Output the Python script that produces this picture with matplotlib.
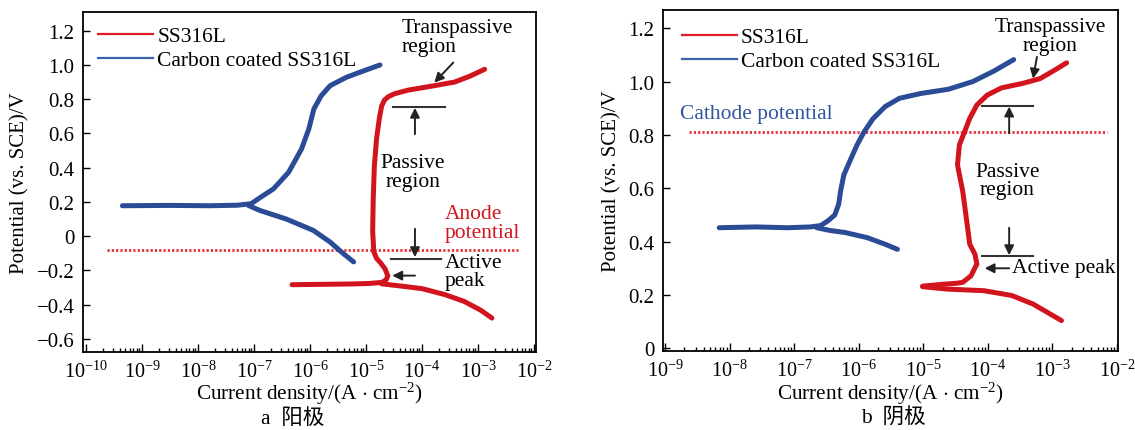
import numpy as np
import matplotlib as mpl
mpl.use('Agg')
import matplotlib.pyplot as plt
from matplotlib.lines import Line2D
from matplotlib.ticker import FixedLocator, FuncFormatter, NullFormatter

# style
mpl.rcParams['font.family'] = ['Liberation Serif', 'Noto Sans CJK SC']
mpl.rcParams['font.size'] = 15.5
mpl.rcParams['mathtext.fontset'] = 'custom'
mpl.rcParams['mathtext.rm'] = 'Liberation Serif'
mpl.rcParams['mathtext.it'] = 'Liberation Serif:italic'
mpl.rcParams['axes.unicode_minus'] = True

RED = '#d2141e'
BLUE = '#2a4b96'
DARK = '#222222'

# ---- (a) anode: log10 current density (A/cm2) and potential (V vs SCE) ----
a_ss_anodic_logi = [-6.32, -5.8, -5.3, -4.95, -4.72, -4.64, -4.61, -4.66, -4.74, -4.81,
                    -4.86, -4.88, -4.87, -4.85, -4.81, -4.76, -4.72, -4.67, -4.60, -4.49,
                    -4.25, -3.85, -3.42, -3.14, -2.88]
a_ss_anodic_E = [-0.283, -0.281, -0.279, -0.276, -0.270, -0.255, -0.231, -0.190, -0.155, -0.130,
                 -0.090, 0.030, 0.220, 0.410, 0.570, 0.690, 0.760, 0.795, 0.815, 0.832,
                 0.853, 0.875, 0.900, 0.935, 0.975]
a_ss_cathodic_logi = [-4.72, -4.4, -4.0, -3.6, -3.25, -2.95, -2.75]
a_ss_cathodic_E = [-0.278, -0.290, -0.306, -0.340, -0.380, -0.432, -0.478]

a_cc_anodic_logi = [-9.35, -8.5, -7.8, -7.3, -7.05, -6.92, -6.65, -6.38, -6.15, -6.02,
                    -5.93, -5.80, -5.64, -5.35, -5.03, -4.75]
a_cc_anodic_E = [0.178, 0.180, 0.178, 0.181, 0.190, 0.219, 0.277, 0.374, 0.510, 0.627,
                 0.743, 0.820, 0.879, 0.928, 0.967, 1.000]
a_cc_cathodic_logi = [-7.1, -6.89, -6.42, -5.94, -5.64, -5.41, -5.22]
a_cc_cathodic_E = [0.180, 0.150, 0.100, 0.034, -0.034, -0.100, -0.150]

a_anode_potential = -0.083

# ---- (b) cathode ----
b_ss_anodic_logi = [-5.01, -4.70, -4.48, -4.39, -4.26, -4.17, -4.20, -4.28, -4.34, -4.39,
                    -4.44, -4.47, -4.44, -4.36, -4.28, -4.17, -4.01, -3.79, -3.46, -3.19,
                    -2.97, -2.78]
b_ss_anodic_E = [0.233, 0.240, 0.244, 0.247, 0.272, 0.316, 0.353, 0.390, 0.500, 0.590,
                 0.650, 0.688, 0.763, 0.812, 0.862, 0.912, 0.949, 0.976, 0.993, 1.011,
                 1.042, 1.070]
b_ss_cathodic_logi = [-5.01, -4.63, -4.06, -3.63, -3.30, -3.08, -2.86]
b_ss_cathodic_E = [0.231, 0.222, 0.216, 0.198, 0.166, 0.135, 0.104]

b_cc_anodic_logi = [-8.16, -7.6, -7.1, -6.75, -6.59, -6.48, -6.37, -6.31, -6.28, -6.23,
                    -6.14, -6.03, -5.92, -5.78, -5.59, -5.37, -5.04, -4.61, -4.23, -3.90,
                    -3.60]
b_cc_anodic_E = [0.452, 0.455, 0.452, 0.455, 0.460, 0.477, 0.500, 0.540, 0.590, 0.650,
                 0.700, 0.760, 0.810, 0.860, 0.906, 0.937, 0.955, 0.971, 1.000, 1.040,
                 1.082]
b_cc_cathodic_logi = [-6.65, -6.45, -6.21, -5.87, -5.59, -5.40]
b_cc_cathodic_E = [0.452, 0.442, 0.434, 0.415, 0.390, 0.371]

b_cathode_potential = 0.809

legend_labels = ['SS316L', 'Carbon coated SS316L']


def fmt_potential(v, pos):
    if abs(v) < 1e-9:
        return '0'
    return ('%.1f' % v).replace('-', '\u2212')


def fmt_decade(v, pos):
    return r'$10^{%d}$' % int(round(np.log10(v)))


def style_axes(ax, dec_lo, dec_hi, xlim, ylim, yticks):
    ax.set_xscale('log')
    ax.set_xlim(*xlim)
    ax.set_ylim(*ylim)
    decades = np.arange(dec_lo, dec_hi + 1)
    minors = [m * 10.0 ** d for d in decades[:-1] for m in range(2, 10)]
    ax.xaxis.set_major_locator(FixedLocator(10.0 ** decades))
    ax.xaxis.set_minor_locator(FixedLocator(minors))
    ax.xaxis.set_major_formatter(FuncFormatter(fmt_decade))
    ax.xaxis.set_minor_formatter(NullFormatter())
    ax.yaxis.set_major_locator(FixedLocator(yticks))
    ax.yaxis.set_major_formatter(FuncFormatter(fmt_potential))
    ax.tick_params(axis='both', which='both', direction='in', top=False, right=False,
                   width=1.0, colors='black')
    ax.tick_params(axis='x', which='major', length=6, pad=6, labelsize=14.5)
    ax.tick_params(axis='x', which='minor', length=3)
    ax.tick_params(axis='y', which='major', length=5, pad=6, labelsize=15)
    for s in ax.spines.values():
        s.set_linewidth(1.3)
    ax.set_xlabel(r'Current density/(A $\cdot$ cm$^{-2}$)', fontsize=15.3)
    ax.set_ylabel('Potential (vs. SCE)/V', fontsize=15)


def curve(ax, logi, E, color):
    ax.plot(10.0 ** np.asarray(logi), E, color=color, lw=3.6,
            solid_capstyle='round', solid_joinstyle='round', zorder=3)


def arrow(ax, tail, head):
    ax.annotate('', xy=(10 ** head[0], head[1]), xytext=(10 ** tail[0], tail[1]),
                arrowprops=dict(arrowstyle='-|>', color=DARK, lw=1.4,
                                mutation_scale=14, shrinkA=0, shrinkB=0), zorder=4)


def bar(ax, x0, x1, y):
    ax.plot([10 ** x0, 10 ** x1], [y, y], color='#333333', lw=1.5, zorder=4)


def legend(ax, anchor):
    handles = [Line2D([], [], color='#e01e28', lw=1.6),
               Line2D([], [], color='#3a62b0', lw=1.6)]
    ax.legend(handles, legend_labels, loc='upper left', bbox_to_anchor=anchor,
              frameon=False, fontsize=15.5, handlelength=2.55, handletextpad=0.18,
              labelspacing=0.17, borderpad=0, borderaxespad=0)


fig = plt.figure(figsize=(11.35, 4.31), dpi=100)

# ---------------- (a) ----------------
ax1 = fig.add_axes([0.0731, 0.181, 0.3991, 0.7895])
style_axes(ax1, -10, -2, (10 ** -10.054, 10 ** -1.964), (-0.676, 1.311),
           np.round(np.arange(-0.6, 1.21, 0.2), 1))
curve(ax1, a_cc_anodic_logi, a_cc_anodic_E, BLUE)
curve(ax1, a_cc_cathodic_logi, a_cc_cathodic_E, BLUE)
curve(ax1, a_ss_anodic_logi, a_ss_anodic_E, RED)
curve(ax1, a_ss_cathodic_logi, a_ss_cathodic_E, RED)
ax1.plot([10 ** -9.63, 10 ** -2.29], [a_anode_potential] * 2, color='#e8303a', lw=2.0,
         linestyle=(0, (0.8, 0.75)), zorder=2)

ax1.text(10 ** -4.36, 1.163, 'Transpassive\nregion', ha='left', va='center', linespacing=0.95)
arrow(ax1, (-3.44, 1.014), (-3.78, 0.897))
bar(ax1, -4.52, -3.59, 0.757)
arrow(ax1, (-4.125, 0.596), (-4.125, 0.75))
ax1.text(10 ** -4.16, 0.375, 'Passive\nregion', ha='center', va='center', linespacing=0.95)
ax1.text(10 ** -3.6, 0.077, 'Anode\npotential', ha='left', va='center', color=RED,
         linespacing=0.95)
arrow(ax1, (-4.125, 0.043), (-4.125, -0.122))
bar(ax1, -4.55, -3.66, -0.132)
ax1.text(10 ** -3.6, -0.207, 'Active\npeak', ha='left', va='center', linespacing=0.95)
arrow(ax1, (-4.125, -0.23), (-4.53, -0.23))
legend(ax1, (0.034, 0.957))
ax1.yaxis.set_label_coords(-0.117, 0.5)
ax1.xaxis.set_label_coords(0.5, -0.083)

# ---------------- (b) ----------------
ax2 = fig.add_axes([0.5841, 0.1833, 0.4009, 0.7912])
style_axes(ax2, -9, -2, (10 ** -9.031, 10 ** -1.985), (-0.01, 1.268),
           np.round(np.arange(0, 1.21, 0.2), 1))
curve(ax2, b_cc_anodic_logi, b_cc_anodic_E, BLUE)
curve(ax2, b_cc_cathodic_logi, b_cc_cathodic_E, BLUE)
curve(ax2, b_ss_anodic_logi, b_ss_anodic_E, RED)
curve(ax2, b_ss_cathodic_logi, b_ss_cathodic_E, RED)
ax2.plot([10 ** -8.62, 10 ** -2.15], [b_cathode_potential] * 2, color='#e8303a', lw=2.0,
         linestyle=(0, (0.8, 0.75)), zorder=2)

ax2.text(10 ** -8.76, 0.881, 'Cathode potential', ha='left', va='center', color='#2e55a0')
ax2.text(10 ** -3.03, 1.17, 'Transpassive\nregion', ha='center', va='center', linespacing=0.95)
arrow(ax2, (-3.24, 1.092), (-3.30, 1.011))
bar(ax2, -4.09, -3.30, 0.908)
arrow(ax2, (-3.67, 0.806), (-3.67, 0.906))
ax2.text(10 ** -3.70, 0.63, 'Passive\nregion', ha='center', va='center', linespacing=0.95)
arrow(ax2, (-3.67, 0.452), (-3.67, 0.349))
bar(ax2, -4.09, -3.30, 0.347)
ax2.text(10 ** -3.62, 0.303, 'Active peak', ha='left', va='center')
arrow(ax2, (-3.67, 0.30), (-4.05, 0.30))
legend(ax2, (0.042, 0.949))
ax2.yaxis.set_label_coords(-0.092, 0.5)
ax2.xaxis.set_label_coords(0.5, -0.083)

# panel captions
fig.text(293 / 1135, 1 - 419 / 431, 'a  阳极', ha='center', va='center', fontsize=15.5)
fig.text(893 / 1135, 1 - 419 / 431, 'b  阴极', ha='center', va='center', fontsize=15.5)

fig.savefig('out.png', dpi=100)
